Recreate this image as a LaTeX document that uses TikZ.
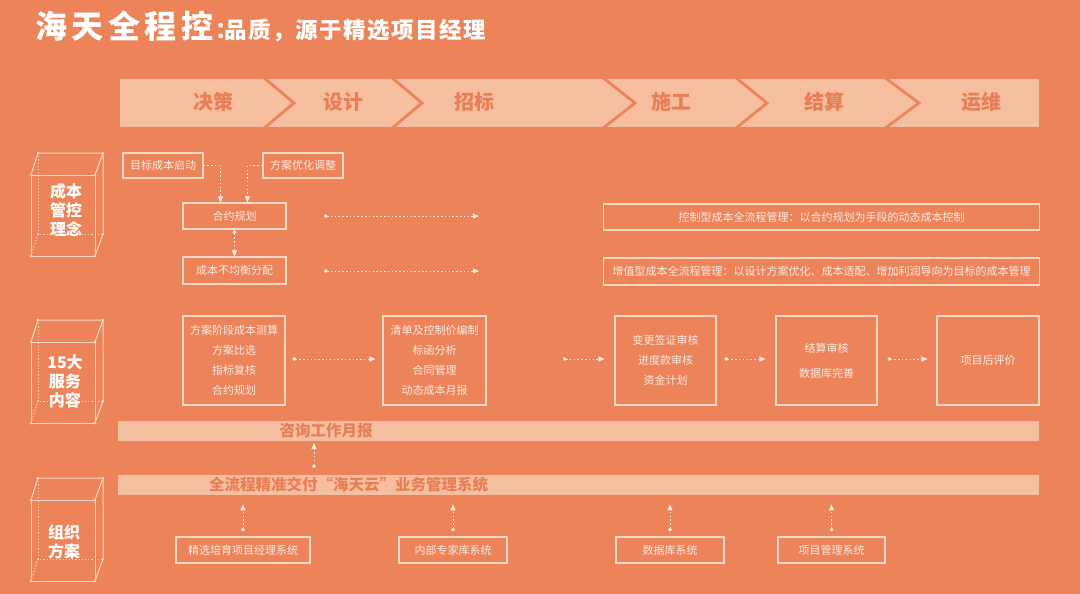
\documentclass[tikz,border=0pt]{standalone}
\usepackage{fontspec}
\setmainfont{Noto Sans CJK SC}
\usetikzlibrary{arrows.meta}
\definecolor{bg}{RGB}{236,131,89}
\definecolor{bandc}{RGB}{246,192,160}
\definecolor{bandtext}{RGB}{233,126,84}
\definecolor{edgec}{RGB}{250,216,198}
\definecolor{txt}{RGB}{253,236,226}
\tikzset{
  box/.style={draw=edgec, line width=1.1pt, text=txt, font=\fontsize{11}{20}\selectfont, align=center, inner sep=0pt},
  conn/.style={draw=txt, line width=1pt, dash pattern=on 1.5pt off 2.3pt},
  tipend/.style={-{Triangle[length=6pt,width=5pt,fill=txt]}},
  tipboth/.style={{Circle[length=3.5pt,fill=txt]}-{Triangle[length=6pt,width=5pt,fill=txt]}},
  stagelbl/.style={text=bandtext, font=\fontsize{20}{20}\selectfont\bfseries, inner sep=0pt},
  bandlbl/.style={text=bandtext, font=\fontsize{15.5}{15.5}\selectfont\bfseries, inner sep=0pt},
  cubelbl/.style={text=white, font=\fontsize{16}{19}\selectfont\bfseries, align=center, inner sep=0pt},
  chev/.style={draw=bg, line width=2.8pt},
  cubeline/.style={draw=edgec, line width=1pt},
  cubedot/.style={draw=edgec, line width=1pt, dash pattern=on 1.2pt off 2pt},
  cube/.pic={
    \draw[cubeline] (0,22) rectangle (64,103);
    \draw[cubeline] (7,0) -- (72,0) -- (72,81) -- (64,103);
    \draw[cubeline] (7,0) -- (0,22);
    \draw[cubeline] (72,0) -- (64,22);
    \draw[cubedot] (7,0) -- (7,81) -- (72,81);
    \draw[cubedot] (7,81) -- (0,103);
    \foreach \p in {(7,0),(72,0),(0,22),(64,22),(72,81),(0,103),(64,103)}
      \fill[edgec] \p circle (1.5pt);
  }
}
\begin{document}
\begin{tikzpicture}[x=1pt,y=-1pt]
\fill[bg] (0,0) rectangle (1080,594);
\useasboundingbox (0,0) rectangle (1080,594);

% title
\node[anchor=base west, text=white, inner sep=0pt] (title) at (35,38.5)
  {\fontsize{32}{32}\selectfont\bfseries\addfontfeature{LetterSpace=14}海天全程控\fontsize{22.5}{22.5}\selectfont\hspace{2pt}\makebox[9pt][l]{：}\addfontfeature{LetterSpace=6.5}品质，源于精选项目经理};

% stage band
\fill[bandc] (120,79) rectangle (1039,127);
\foreach \a/\b in {263/294, 391/422, 602/635, 735/767, 884/919}
  \draw[chev] (\a,77) -- (\b,103) -- (\a,129);
\node[stagelbl] (s1) at (213,102) {决策};
\node[stagelbl] (s2) at (343,102) {设计};
\node[stagelbl] (s3) at (474,102) {招标};
\node[stagelbl] (s4) at (671,102) {施工};
\node[stagelbl] (s5) at (824,102) {结算};
\node[stagelbl] (s6) at (981,102) {运维};

% cubes
\pic at (31,153) {cube};
\pic at (31,320) {cube};
\pic at (31,478) {cube};
\node[cubelbl] (k1) at (66,210) {成本\\管控\\理念};
\node[cubelbl] (k2) at (65,381) {15大\\服务\\内容};
\node[cubelbl] (k3) at (64,542) {组织\\方案};

% row 1
\node[box, minimum width=80pt, minimum height=25pt] (n1) at (163,165.5) {目标成本启动};
\node[box, minimum width=80pt, minimum height=25pt] (n2) at (303,165.5) {方案优化调整};
\node[box, minimum width=103pt, minimum height=26pt] (n3) at (234.5,216) {合约规划};
\node[box, minimum width=103pt, minimum height=27pt] (n4) at (234.5,270.5) {成本不均衡分配};
\node[box, minimum width=436pt, minimum height=26pt] (n5) at (821.5,217) {控制型成本全流程管理：以合约规划为手段的动态成本控制};
\node[box, minimum width=436pt, minimum height=27pt] (n6) at (821.5,271.5) {增值型成本全流程管理：以设计方案优化、成本适配、增加利润导向为目标的成本管理};

\draw[conn, tipend] (n1.east) -| ([xshift=-14pt]n3.north);
\draw[conn, tipend] (n2.west) -| ([xshift=13pt]n3.north);
\draw[conn, tipboth] ([yshift=-1pt]n3.south) -- (n4.north);
\coordinate (h1s) at (324,216);
\coordinate (h1e) at (479,216);
\coordinate (h2s) at (324,271);
\coordinate (h2e) at (479,271);
\draw[conn, tipboth] (h1s) -- (h1e);
\draw[conn, tipboth] (h2s) -- (h2e);

% row 2
\node[box, minimum width=102pt, minimum height=89pt] (A) at (234,360.5) {方案阶段成本测算\\方案比选\\指标复核\\合约规划};
\node[box, minimum width=103pt, minimum height=89pt] (B) at (434.5,360.5) {清单及控制价编制\\标函分析\\合同管理\\动态成本月报};
\node[box, minimum width=101pt, minimum height=89pt] (C) at (665.5,360.5) {变更签证审核\\进度款审核\\资金计划};
\node[box, minimum width=101pt, minimum height=89pt] (D) at (826.5,360.5) {结算审核\\[5pt]数据库完善};
\node[box, minimum width=102pt, minimum height=89pt] (E) at (988,360.5) {项目后评价};

\draw[conn, tipboth] ([xshift=7pt,yshift=1.5pt]A.east) -- ([xshift=-7pt,yshift=1.5pt]B.west);
\coordinate (h3s) at (563,359);
\draw[conn, tipboth] (h3s) -- ([xshift=-10pt,yshift=1.5pt]C.west);
\draw[conn, tipboth] ([xshift=8pt,yshift=1.5pt]C.east) -- ([xshift=-10pt,yshift=1.5pt]D.west);
\draw[conn, tipboth] ([xshift=10pt,yshift=1.5pt]D.east) -- ([xshift=-9pt,yshift=1.5pt]E.west);

% bands
\node[fill=bandc, minimum width=921pt, minimum height=20pt, inner sep=0pt] (band1) at (578.5,431) {};
\node[bandlbl] (t1) at (326,431) {咨询工作月报};
\node[fill=bandc, minimum width=921pt, minimum height=20pt, inner sep=0pt] (band2) at (578.5,485) {};
\node[bandlbl] (t2) at (348.5,485) {全流程精准交付“海天云”业务管理系统};

\coordinate (u0s) at (314,468);
\coordinate (u0e) at (314,443);
\draw[conn, tipboth] (u0s) -- (u0e);

% row 3
\node[box, minimum width=134pt, minimum height=26pt] (F) at (243,550) {精选培育项目经理系统};
\node[box, minimum width=108pt, minimum height=26pt] (G) at (453,550) {内部专家库系统};
\node[box, minimum width=108pt, minimum height=26pt] (H) at (670,550) {数据库系统};
\node[box, minimum width=107pt, minimum height=26pt] (I) at (831.5,550) {项目管理系统};

\foreach \n in {F,G,H,I}
  \draw[conn, tipboth] ([yshift=5pt]\n.north) -- ++(0,-27);
\end{tikzpicture}
\end{document}
